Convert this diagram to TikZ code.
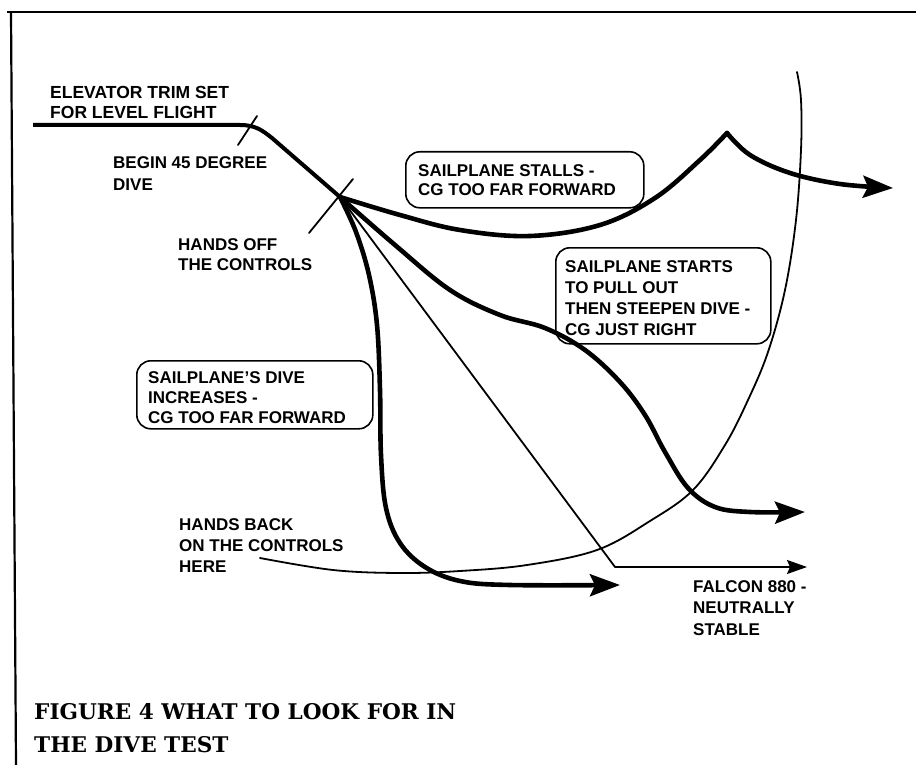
\documentclass[tikz,border=0pt]{standalone}
\usepackage{fontspec}
\setmainfont{Liberation Sans}
\newfontfamily\capfont{DejaVu Serif}
\usetikzlibrary{arrows.meta}
\begin{document}
\begin{tikzpicture}[x=1pt,y=-1pt,
  lbl/.style={anchor=base west, inner sep=0pt, align=left, font=\bfseries\fontsize{17}{20}\selectfont},
  boxed/.style={draw, line width=1.6pt, rounded corners=14pt, anchor=north west, inner sep=0pt},
  heavy/.style={line width=4.6pt, line cap=round, line join=round},
  light/.style={line width=1.8pt, line cap=round, line join=round},
  bigarrow/.style={-{Stealth[length=30pt,width=22pt,inset=5pt]}},
  smallarrow/.style={-{Stealth[length=20pt,width=14pt,inset=3pt]}},
]
\useasboundingbox[fill=white] (0,0) rectangle (916,765);
% frame
\draw[line width=2pt] (7,12) -- (916,12);
\draw[line width=2.2pt] (11,12) -- (16,765);

\coordinate (start) at (33,125);
\coordinate (trim) at (248,125);
\coordinate (hands) at (340,197);

% level flight and 45 degree dive
\draw[line width=4pt, line join=round] (start) -- (240,125) .. controls (255,125) and (262,130) .. (272,138) -- (hands);
% ticks
\draw[light] (238,145) -- (257,116);
\draw[light] (309,233) -- (353,179);

% stall curve
\draw[heavy] plot[smooth,tension=0.6] coordinates {(hands) (400,215) (460,230) (530,236) (600,225) (655,198) (700,160) (727,133)};
\draw[heavy,bigarrow] plot[smooth,tension=0.6] coordinates {(727,133) (750,155) (790,173) (840,184) (893,188)};

% dive increases
\draw[heavy,bigarrow] plot[smooth,tension=0.6] coordinates {(hands) (356,232) (369,275) (377,325) (380,390) (381,455) (386,508) (400,543) (425,567) (460,581) (510,585) (620,585)};

% pull out then steepen
\draw[heavy,bigarrow] plot[smooth,tension=0.6] coordinates {(hands) (395,245) (450,290) (500,315) (545,328) (585,350) (620,382) (645,415) (665,452) (688,488) (715,507) (750,512) (805,512)};

% falcon neutrally stable
\draw[light,smallarrow] (hands) -- (615,567) -- (807,567);

% hands back arc
\draw[light] plot[smooth,tension=0.6] coordinates {(260,558) (333,570) (400,573) (460,571) (527,565) (597,550) (650,521) (693,490) (725,445) (748,400) (768,352) (785,290) (796,220) (801,150) (801,100) (797,72)};

% boxes
\node[boxed, minimum width=238pt, minimum height=56pt] (stallbox) at (405,151) {};
\node[boxed, minimum width=215pt, minimum height=96pt] (rightbox) at (555,247) {};
\node[boxed, minimum width=236pt, minimum height=68pt] (forwardbox) at (136,360) {};

% labels (anchor = baseline of last line)
\node[lbl, font=\bfseries\fontsize{17.5}{20}\selectfont] (elev) at (50,119) {ELEVATOR TRIM SET\\FOR LEVEL FLIGHT};
\node[lbl, font=\bfseries\fontsize{17}{22}\selectfont] (begin) at (113,190) {BEGIN 45 DEGREE\\DIVE};
\node[lbl] (off) at (178,270) {HANDS OFF\\THE CONTROLS};
\node[lbl, font=\bfseries\fontsize{17}{19}\selectfont] (stalls) at (418,195) {SAILPLANE STALLS -\\CG TOO FAR FORWARD};
\node[lbl, font=\bfseries\fontsize{17}{20.7}\selectfont] (starts) at (565,335) {SAILPLANE STARTS\\TO PULL OUT\\THEN STEEPEN DIVE -\\CG JUST RIGHT};
\node[lbl] (increases) at (148,423) {SAILPLANE'S DIVE\\INCREASES -\\CG TOO FAR FORWARD};
\node[lbl, font=\bfseries\fontsize{17}{21}\selectfont] (back) at (179,572) {HANDS BACK\\ON THE CONTROLS\\HERE};
\node[lbl, font=\bfseries\fontsize{17}{21.5}\selectfont] (falcon) at (693,635) {FALCON 880 -\\NEUTRALLY\\STABLE};

% caption
\node[anchor=base west, inner sep=0pt, align=left, font=\capfont\bfseries\fontsize{21.6}{33}\selectfont] (caption) at (34,752) {FIGURE 4 WHAT TO LOOK FOR IN\\THE DIVE TEST};
\end{tikzpicture}
\end{document}
